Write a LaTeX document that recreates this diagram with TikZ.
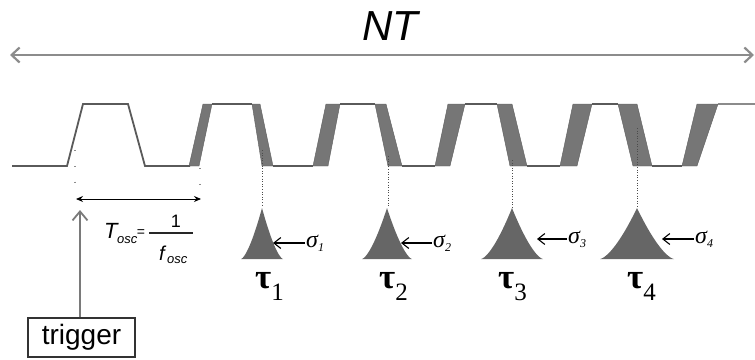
\documentclass[tikz,border=0pt]{standalone}
\usepackage{fontspec}
\setmainfont{Liberation Sans}
\newfontfamily\tms{Liberation Serif}
\usetikzlibrary{arrows.meta}
\definecolor{wavecol}{HTML}{5A5A5A}
\definecolor{bandcol}{HTML}{767676}
\definecolor{peakcol}{HTML}{666666}
\definecolor{ntcol}{HTML}{8C8C8C}
\definecolor{trigcol}{HTML}{7A7A7A}
\tikzset{
  wave/.style={draw=wavecol, line width=1.8pt},
  band/.style={fill=bandcol, draw=bandcol!80!black, line width=0.4pt},
  peak/.style={fill=peakcol, draw=none},
  guide/.style={draw=black!70, line width=0.7pt, dash pattern=on 1pt off 1.6pt},
  sparse/.style={draw=black!45, line width=1.3pt, dash pattern=on 1.3pt off 14.5pt},
  ntarrow/.style={draw=ntcol, line width=2.2pt, {Straight Barb[length=8pt,width=15pt]}-{Straight Barb[length=8pt,width=15pt]}},
  trigarrow/.style={draw=trigcol, line width=1.8pt, -{Straight Barb[length=9pt,width=15pt]}},
  oscarrow/.style={draw=black, line width=0.9pt, {Stealth[length=7pt,width=6pt]}-{Stealth[length=7pt,width=6pt]}},
  sigarrow/.style={draw=black, line width=1.1pt, -{Straight Barb[length=7pt,width=11pt]}},
  taulbl/.style={anchor=base west, inner sep=0pt, font=\tms\bfseries\fontsize{35}{35}\selectfont},
  siglbl/.style={anchor=west, inner sep=1pt, font=\tms\itshape\fontsize{24}{24}\selectfont},
  frm/.style={inner sep=0pt, font=\itshape\fontsize{22}{22}\selectfont},
  sub/.style={inner sep=0pt, anchor=base west, font=\itshape\fontsize{13}{13}\selectfont},
}
\begin{document}
\begin{tikzpicture}[x=1pt,y=-1pt]
\useasboundingbox (0,0) rectangle (755,359);

% NT span
\node[inner sep=0pt, font=\itshape\fontsize{42}{42}\selectfont] (nt) at (390,26) {NT};
\coordinate (ntL) at (10,55);
\coordinate (ntR) at (754,55);
\draw[ntarrow] (ntL) -- (ntR);

% jitter bands (bottom-left, top-left, top-right, bottom-right)
\foreach \ba/\ta/\tb/\bb in {189/203/212/199, 262/252/260/273, 313/326/340/328, 388/375/386/402,
  435/448/465/450, 510/497/512/527, 560/573/592/577, 633/618/637/652, 682/697/718/697}
  \filldraw[band] (\ba,166) -- (\ta,104) -- (\tb,104) -- (\bb,166) -- cycle;

% waveform lines
\draw[wave] (12,166) -- (67,166) -- (83,104) -- (128,104) -- (145,166) -- (190,166);
\foreach \a/\b in {273/313, 402/435, 527/560, 652/682}
  \draw[wave] (\a,166) -- (\b,166);
\foreach \a/\b in {212/252, 340/375, 465/497, 592/618}
  \draw[wave] (\a,104) -- (\b,104);
\draw[wave, draw=wavecol!70] (718,104) -- (755,104);

% guides to peaks
\foreach \c/\s in {262/150, 388/156, 512/160, 637/128}
  \draw[guide] (\c,\s) -- (\c,207);

% peaks
\foreach \c/\h in {262/21, 387/25, 512/31, 637/37}
  \fill[peak] plot[domain=-\h:\h, samples=81] ({\c+\x},{259-51*pow(1-abs(\x)/\h,1.5)}) -- cycle;

% sigma labels and arrows
\node[siglbl] (s1) at (305,243) {σ\raisebox{-4pt}{\fontsize{12}{12}\selectfont 1}};
\node[siglbl] (s2) at (432,243) {σ\raisebox{-4pt}{\fontsize{12}{12}\selectfont 2}};
\node[siglbl] (s3) at (567,239) {σ\raisebox{-4pt}{\fontsize{12}{12}\selectfont 3}};
\node[siglbl] (s4) at (694,239) {σ\raisebox{-4pt}{\fontsize{12}{12}\selectfont 4}};
\coordinate (p1) at (273,243);
\coordinate (p2) at (401,243);
\coordinate (p3) at (537,239);
\coordinate (p4) at (662,239);
\draw[sigarrow] (s1.west) -- (p1);
\draw[sigarrow] (s2.west) -- (p2);
\draw[sigarrow] (s3.west) -- (p3);
\draw[sigarrow] (s4.west) -- (p4);

% tau labels
\node[taulbl] (t1) at (255,288) {τ\raisebox{-12pt}{\fontsize{25}{25}\selectfont\mdseries 1}};
\node[taulbl] (t2) at (379,288) {τ\raisebox{-12pt}{\fontsize{25}{25}\selectfont\mdseries 2}};
\node[taulbl] (t3) at (498,288) {τ\raisebox{-12pt}{\fontsize{25}{25}\selectfont\mdseries 3}};
\node[taulbl] (t4) at (627,288) {τ\raisebox{-12pt}{\fontsize{25}{25}\selectfont\mdseries 4}};

% period marker
\draw[sparse] (75,150) -- (75,190);
\draw[sparse] (200,168) -- (200,190);
\coordinate (oscL) at (76,199);
\coordinate (oscR) at (201,199);
\draw[oscarrow] (oscL) -- (oscR);

% formula T_osc = 1/f_osc
\node[frm, anchor=base west] (tT) at (104,238) {T};
\node[sub] (tTs) at (117,243) {osc};
\node[inner sep=0pt, font=\fontsize{14}{14}\selectfont] (teq) at (141,233) {=};
\node[inner sep=0pt, anchor=base, font=\fontsize{18}{18}\selectfont] (tone) at (176,227) {1};
\coordinate (barL) at (149,233);
\coordinate (barR) at (193,233);
\draw[line width=1.3pt, draw=black!85] (barL) -- (barR);
\node[frm, anchor=base west, font=\itshape\fontsize{20}{20}\selectfont] (tf) at (159,260) {f};
\node[sub] (tfs) at (167,263) {osc};

% trigger
\node[draw=black!80, line width=1.2pt, minimum width=107pt, minimum height=39pt, inner sep=0pt,
      font=\fontsize{28}{28}\selectfont] (trig) at (81.5,337.5) {trigger};
\coordinate (trigtip) at (80,210);
\draw[trigarrow] (trig.north -| trigtip) -- (trigtip);
\end{tikzpicture}
\end{document}
